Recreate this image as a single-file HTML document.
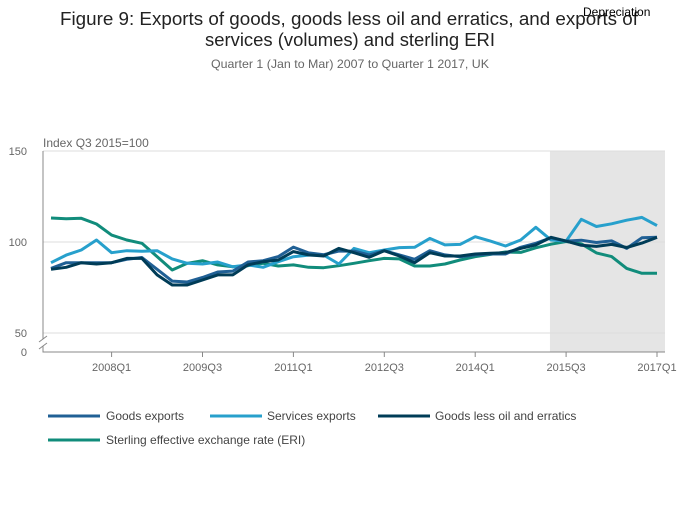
<!DOCTYPE html>
<html><head><meta charset="utf-8"><style>
body{margin:0;background:#fff;font-family:"Liberation Sans",sans-serif;}
svg text{font-family:"Liberation Sans",sans-serif;}
</style></head><body>
<svg id="chart" width="700" height="502" viewBox="0 0 700 502" xmlns="http://www.w3.org/2000/svg">
<text x="60" y="25" textLength="578" lengthAdjust="spacingAndGlyphs" font-size="18" fill="#222">Figure 9: Exports of goods, goods less oil and erratics, and exports of</text>
<text x="205" y="46" textLength="290" lengthAdjust="spacingAndGlyphs" font-size="18" fill="#222">services (volumes) and sterling ERI</text>
<text x="211" y="68" textLength="278" lengthAdjust="spacingAndGlyphs" font-size="12" fill="#666">Quarter 1 (Jan to Mar) 2007 to Quarter 1 2017, UK</text>
<text x="583" y="16" font-size="12" fill="#000">Depreciation</text>
<g id="plot"></g>
<g id="legend">
<line x1="48" y1="416" x2="100" y2="416" stroke="#206095" stroke-width="3"/>
<text x="106" y="420" font-size="12" fill="#444">Goods exports</text>
<line x1="210" y1="416" x2="262" y2="416" stroke="#27a0cc" stroke-width="3"/>
<text x="267" y="420" font-size="12" fill="#444">Services exports</text>
<line x1="378" y1="416" x2="430" y2="416" stroke="#003c57" stroke-width="3"/>
<text x="435" y="420" font-size="12" fill="#444">Goods less oil and erratics</text>
<line x1="48" y1="440" x2="100" y2="440" stroke="#118c7b" stroke-width="3"/>
<text x="106" y="444" font-size="12" fill="#444">Sterling effective exchange rate (ERI)</text>
</g>
</svg>
<script>
const quarterCount = 41;
const xTickIndex = [4, 10, 16, 22, 28, 34, 40];
const xTickLabels = ["2008Q1", "2009Q3", "2011Q1", "2012Q3", "2014Q1", "2015Q3", "2017Q1"];
const yTickValues = [150, 100, 50];
const goodsExports = [85.5,88.6,88.6,88.6,88.6,90.5,91.5,85,78.5,78,80.5,83.5,84,89,89.7,92,97.2,94,93,95,
 95,92.9,95.2,92.9,90.5,95.2,92.9,91.9,92.9,93.4,93.4,97.1,99.3,102.3,100.5,101,99.7,100.6,96.5,102.3,102.6];
const servicesExports = [88.6,92.8,95.6,101.1,94.1,95.2,94.9,95.2,90.7,88.3,87.9,89,86.4,87.4,86.1,89.2,91.9,92.8,92.8,87.9,
 96.5,94.1,95.6,96.9,97.1,102,98.4,98.7,102.9,100.5,97.8,101.1,108.1,101.1,100.5,112.5,108.5,110,112,113.5,109];
const goodsLessOil = [85,86.1,88.6,87.9,88.6,91,91,81.9,76.4,76.4,79.1,81.9,81.9,87.4,89.2,90.1,94.7,92.9,92.3,96.5,
 94.1,91.6,95.2,92.3,88.6,94.1,92.3,92.3,93.4,93.8,94.1,96.5,98.4,102.6,100.5,98.2,97.6,98.7,97,99.4,102.6];
const eriValues = [113.2,112.8,113,109.9,103.8,101.1,99.3,92,84.6,88.3,89.7,87.4,86.4,87,88.3,86.8,87.4,86.1,85.9,87,
 88.3,89.7,91,90.7,86.8,86.8,87.9,90.1,92,93.2,94.5,94.3,96.8,98.8,100.3,99,94,92,85.5,82.8,82.8];
const depreciationStart = 33;

const NS = "http://www.w3.org/2000/svg";
const plot = document.getElementById("plot");
const X0 = 51, XSTEP = 15.15, PLEFT = 43, PRIGHT = 665;
function xScale(i){ return X0 + i*XSTEP; }
function yScale(v){ return 242 - (v-100)*1.82; }
function mk(tag, attrs){ const e=document.createElementNS(NS,tag); for(const k in attrs) e.setAttribute(k,attrs[k]); plot.appendChild(e); return e; }

const shade = mk("rect",{x:xScale(depreciationStart)-1,y:yScale(150),width:PRIGHT-xScale(depreciationStart)+1,height:352-yScale(150),fill:"#e5e5e5"});



yTickValues.forEach(v=>{
  const g = mk("line",{x1:PLEFT,x2:PRIGHT,y1:yScale(v),y2:yScale(v),stroke:"#ddd","stroke-width":1});
  
  
  const t = mk("text",{x:PLEFT-16,y:yScale(v)+4,"text-anchor":"end","font-size":11,fill:"#666"});
  t.textContent = v;
  
  
});
const t0 = mk("text",{x:PLEFT-16,y:356,"text-anchor":"end","font-size":11,fill:"#666"});
t0.textContent = "0";



const yl = mk("text",{x:43,y:147,"font-size":12,fill:"#666"});
yl.textContent = "Index Q3 2015=100";



const ax = mk("path",{d:`M${PLEFT},${yScale(150)} V339 M${PLEFT},346 V352 H${PRIGHT}`,stroke:"#888","stroke-width":1,fill:"none"});


const brk = mk("path",{d:`M${PLEFT-4},342 L${PLEFT+4},336 M${PLEFT-4},349 L${PLEFT+4},343`,stroke:"#888","stroke-width":1,fill:"none"});



xTickIndex.forEach((idx,k)=>{
  const x = xScale(idx);
  const tk = mk("line",{x1:x,x2:x,y1:352,y2:357,stroke:"#888"});
  
  
  const t = mk("text",{x:x,y:371,"text-anchor":"middle","font-size":11,fill:"#666"});
  t.textContent = xTickLabels[k];
  
  
});

function line(data, color, name){
  const d = data.map((v,i)=>(i?"L":"M")+xScale(i).toFixed(1)+","+yScale(v).toFixed(1)).join(" ");
  const p = mk("path",{d:d,stroke:color,"stroke-width":3,fill:"none","stroke-linejoin":"round"});
  
  
}
line(eriValues, "#118c7b", "eri-line");
line(servicesExports, "#27a0cc", "services-exports-line");
line(goodsExports, "#206095", "goods-exports-line");
line(goodsLessOil, "#003c57", "goods-less-oil-line");
</script>
</body></html>
